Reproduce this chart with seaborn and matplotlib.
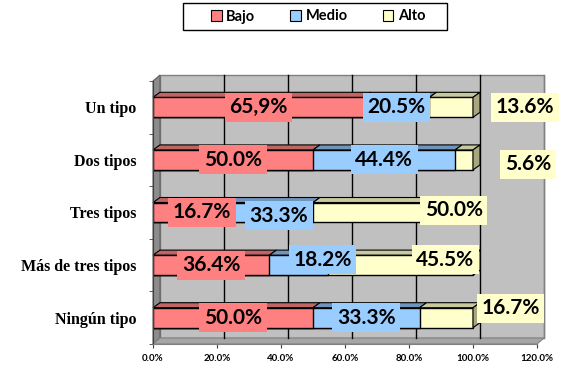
import matplotlib.pyplot as plt
import seaborn as sns
import pandas as pd
from matplotlib.patches import Polygon, Rectangle, Patch

# --- data ---
categories = ['Un tipo', 'Dos tipos', 'Tres tipos', 'Más de tres tipos', 'Ningún tipo']
series = ['Bajo', 'Medio', 'Alto']
bajo = [65.9, 50.0, 16.7, 36.4, 50.0]
medio = [20.5, 44.4, 33.3, 18.2, 33.3]
alto = [13.6, 5.6, 50.0, 45.5, 16.7]
bajo_labels = ['65,9%', '50.0%', '16.7%', '36.4%', '50.0%']
medio_labels = ['20.5%', '44.4%', '33.3%', '18.2%', '33.3%']
alto_labels = ['13.6%', '5.6%', '50.0%', '45.5%', '16.7%']
xticks = [0, 20, 40, 60, 80, 100, 120]

# label nudges (x in %, y in category units) to mimic Excel's placement
bajo_nudge = [(0, 0), (0, 0), (7, 0), (0, 0), (0, 0)]
medio_nudge = [(0, 0), (0, 0), (6, 0.06), (7.5, -0.1), (0, 0)]
alto_nudge = [(23, 0), (20, 0.08), (19, -0.04), (14, -0.1), (20, -0.18)]

colors = {'Bajo': '#FF8080', 'Medio': '#99CCFF', 'Alto': '#FFFFCC'}
tops = {'Bajo': '#C06464', 'Medio': '#6F95BF', 'Alto': '#C9C9A0'}
cap_color = '#A8A880'

df = pd.DataFrame({'cat': categories, 'Bajo': bajo, 'Medio': medio, 'Alto': alto})
df['c2'] = df['Bajo'] + df['Medio']
df['c3'] = df['c2'] + df['Alto']

fig = plt.figure(figsize=(5.75, 3.8), dpi=100)
W, H = 575, 380
ax = fig.add_axes([153 / W, 1 - 344 / H, 384 / W, 263 / H])
ax.set_facecolor('none')

bar_h = 0.38
# stacked bars via cumulative overlap
sns.barplot(data=df, y='cat', x='c3', orient='h', color=colors['Alto'], saturation=1,
            width=bar_h, edgecolor='black', linewidth=1, ax=ax, zorder=2)
sns.barplot(data=df, y='cat', x='c2', orient='h', color=colors['Medio'], saturation=1,
            width=bar_h, edgecolor='black', linewidth=1, ax=ax, zorder=2)
sns.barplot(data=df, y='cat', x='Bajo', orient='h', color=colors['Bajo'], saturation=1,
            width=bar_h, edgecolor='black', linewidth=1, ax=ax, zorder=2)

n = len(categories)
ax.set_xlim(0, 120)
ax.set_ylim(n - 0.5, -0.5)

# pixel -> data scale for the pseudo 3D depth
sx = 120 / 384
sy = n / 263
wdx, wdy = 7 * sx, 6 * sy   # wall depth
bdx, bdy = 7 * sx, 5 * sy   # bar depth

top_y, bot_y = -0.5, n - 0.5
# back wall
ax.add_patch(Rectangle((wdx, top_y - wdy), 120, n, facecolor='#C0C0C0',
                       edgecolor='#808080', lw=1, zorder=0.1, clip_on=False))
# side wall
ax.add_patch(Polygon([(0, top_y), (wdx, top_y - wdy), (wdx, bot_y - wdy), (0, bot_y)],
                     closed=True, facecolor='#8C8C8C', edgecolor='#606060', lw=0.8,
                     zorder=0.15, clip_on=False))
# floor
ax.add_patch(Polygon([(0, bot_y), (120, bot_y), (120 + wdx, bot_y - wdy), (wdx, bot_y - wdy)],
                     closed=True, facecolor='#A6A6A6', edgecolor='#808080', lw=0.8,
                     zorder=0.15, clip_on=False))
# gridlines on the back wall
for t in xticks[1:-1]:
    ax.plot([t + wdx, t + wdx], [top_y - wdy, bot_y - wdy], color='black', lw=1,
            zorder=0.2, clip_on=False)
ax.plot([120 + wdx, 120 + wdx], [top_y - wdy, bot_y - wdy], color='#808080', lw=1,
        zorder=0.2, clip_on=False)

# top faces and end caps of bars
for i in range(n):
    y_top = i - bar_h / 2
    lefts = [0, bajo[i], bajo[i] + medio[i]]
    vals = [bajo[i], medio[i], alto[i]]
    for s, l, v in zip(series, lefts, vals):
        r = l + v
        ax.add_patch(Polygon([(l, y_top), (r, y_top), (r + bdx, y_top - bdy), (l + bdx, y_top - bdy)],
                             closed=True, facecolor=tops[s], edgecolor='black', lw=0.8,
                             zorder=2.5, clip_on=False))
    end = sum(vals)
    ax.add_patch(Polygon([(end, y_top), (end + bdx, y_top - bdy), (end + bdx, y_top + bar_h - bdy),
                          (end, y_top + bar_h)],
                         closed=True, facecolor=cap_color, edgecolor='black', lw=0.8,
                         zorder=2.5, clip_on=False))

# value labels
lab_font = dict(family=['Lato', 'DejaVu Sans'], weight='bold', size=15)
for i in range(n):
    lefts = [0, bajo[i], bajo[i] + medio[i]]
    vals = [bajo[i], medio[i], alto[i]]
    texts = [bajo_labels[i], medio_labels[i], alto_labels[i]]
    nudges = [bajo_nudge[i], medio_nudge[i], alto_nudge[i]]
    for s, l, v, t, (nx, ny) in zip(series, lefts, vals, texts, nudges):
        ax.text(l + v / 2 + nx, i + ny, t, ha='center', va='center', zorder=5,
                bbox=dict(boxstyle='square,pad=0.22', facecolor=colors[s], edgecolor='none'),
                **lab_font)

# axes styling
for side in ['top', 'right']:
    ax.spines[side].set_visible(False)
ax.spines['left'].set_color('#404040')
ax.spines['bottom'].set_color('#808080')
ax.set_xticks(xticks)
ax.set_xticklabels([f'{t:.1f}%' for t in xticks], fontsize=7, fontweight='bold',
                   family=['Lato', 'DejaVu Sans'])
ax.tick_params(axis='x', length=3, pad=4, color='#404040')
ax.set_yticks(range(n))
ax.set_yticklabels(categories, fontsize=11.5, fontweight='bold', family='Liberation Serif')
ax.tick_params(axis='y', which='major', length=0, pad=12)
ax.set_yticks([k - 0.5 for k in range(n + 1)], minor=True)
ax.tick_params(axis='y', which='minor', length=3, color='#404040')
ax.set_xlabel('')
ax.set_ylabel('')

# legend with its own frame box
fig.patches.append(Rectangle((183 / W, 1 - 30 / H), 264 / W, 27 / H, transform=fig.transFigure,
                             facecolor='white', edgecolor='black', lw=1, zorder=0))
handles = [Patch(facecolor=colors[s], edgecolor='black', lw=0.8) for s in series]
leg = fig.legend(handles, series, loc='center', ncol=3,
                 bbox_to_anchor=(318 / W, 1 - 16.5 / H),
                 frameon=False,
                 prop=dict(family=['Lato', 'DejaVu Sans'], weight='bold', size=10.5),
                 handlelength=0.75, handleheight=0.75, handletextpad=0.3,
                 columnspacing=2.4, borderpad=0, borderaxespad=0)

fig.savefig('out.png', dpi=100)
